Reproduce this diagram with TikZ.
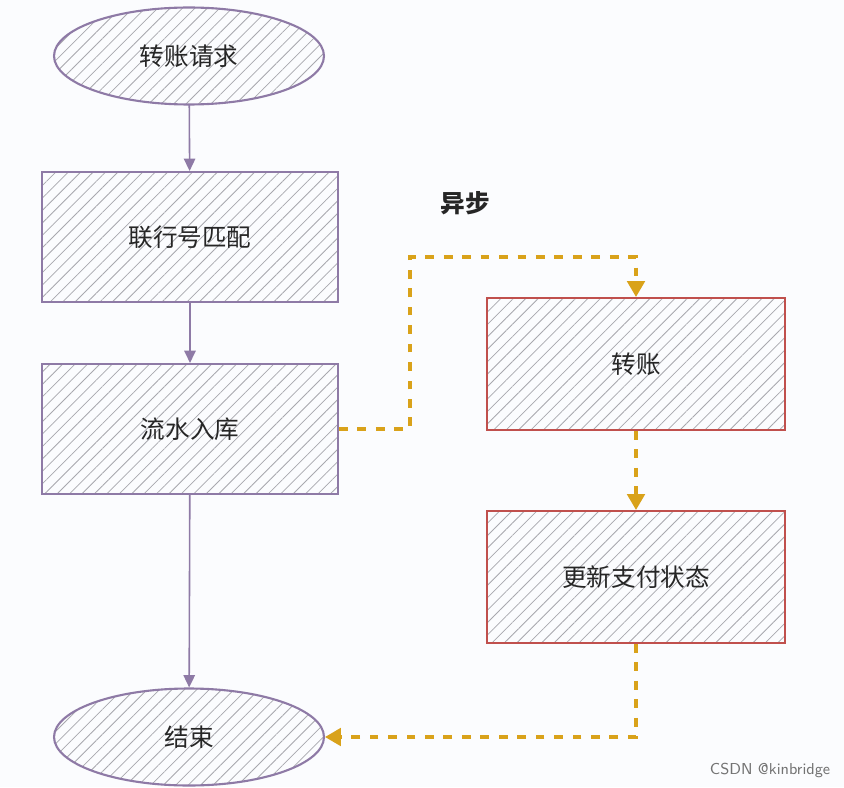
\documentclass[tikz,border=0pt]{standalone}
\usepackage{fontspec}
\newfontfamily\cjk{Noto Sans CJK SC}
\usetikzlibrary{shapes.geometric,patterns.meta,arrows.meta}
\definecolor{bgc}{HTML}{FBFCFE}
\definecolor{purp}{HTML}{8E7AA6}
\definecolor{redb}{HTML}{C0504D}
\definecolor{orng}{HTML}{D9A21A}
\definecolor{hatch}{HTML}{A8A8AE}
\tikzset{
  x=0.02cm, y=-0.02cm,
  lbl/.style={font=\cjk\fontsize{14}{16}\selectfont, text=black!85},
  oval/.style={ellipse, draw=purp, line width=1.2pt, minimum width=5.4cm, minimum height=1.94cm,
     pattern={Lines[angle=45,distance=5pt,line width=0.45pt]}, pattern color=hatch, lbl},
  pbox/.style={rectangle, draw=purp, line width=1.2pt, minimum width=5.92cm, minimum height=2.6cm,
     pattern={Lines[angle=45,distance=5pt,line width=0.45pt]}, pattern color=hatch, lbl},
  rbox/.style={rectangle, draw=redb, line width=1.2pt, minimum width=5.96cm, minimum height=2.64cm,
     pattern={Lines[angle=45,distance=5pt,line width=0.45pt]}, pattern color=hatch, lbl},
  parrow/.style={draw=purp, line width=0.9pt, -{Triangle[length=7pt,width=6.5pt]}},
  oarrow/.style={draw=orng, line width=1.8pt, dash pattern=on 5pt off 5.5pt, -{Triangle[length=9pt,width=10pt]}},
}
\begin{document}
\begin{tikzpicture}
\fill[bgc] (0,0) rectangle (844,787);
\useasboundingbox (0,0) rectangle (844,787);
\node[oval] (start) at (189,56) {转账请求};
\node[pbox] (match) at (190,237) {联行号匹配};
\node[pbox] (store) at (190,429) {流水入库};
\node[oval] (end) at (189,737) {结束};
\node[rbox] (transfer) at (636,364) {转账};
\node[rbox] (update) at (636,577) {更新支付状态};
\node[font=\cjk\bfseries\fontsize{14}{16}\selectfont, text=black!85] (async) at (465,203) {异步};
\node[font=\sffamily\fontsize{9}{10}\selectfont, text=black!55] (wm) at (770,770) {CSDN @kinbridge};
\draw[parrow] (start) -- (match);
\draw[parrow] (match) -- (store);
\draw[parrow] (store) -- (end);
\draw[oarrow] (store.east) -| (410,257) -| (transfer.north);
\draw[oarrow] (transfer) -- (update);
\draw[oarrow] (update.south) |- (end.east);
\end{tikzpicture}
\end{document}
